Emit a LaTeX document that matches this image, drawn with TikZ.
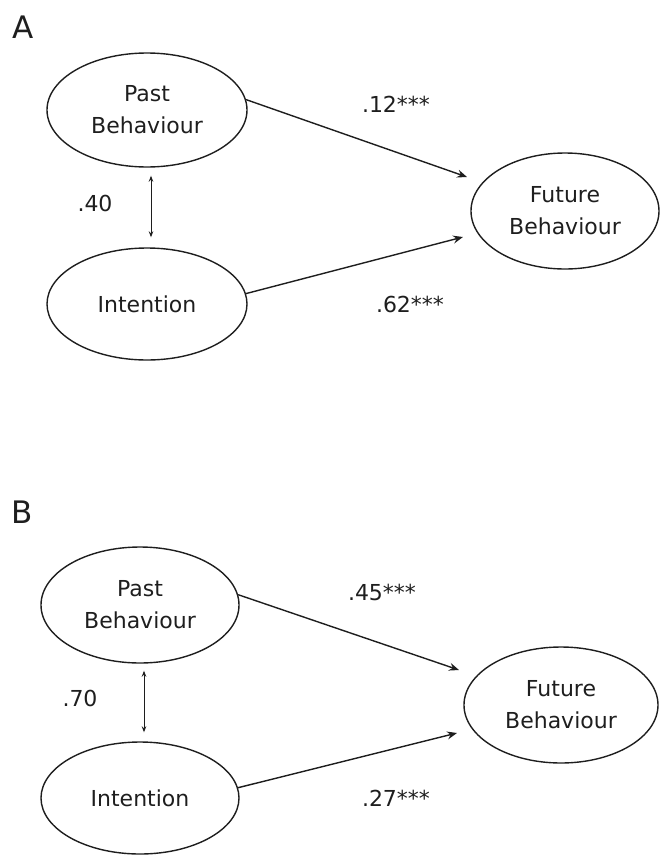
\documentclass[tikz,border=0pt]{standalone}
\usepackage{fontspec}
\setmainfont{DejaVu Sans}
\usetikzlibrary{shapes.geometric,arrows.meta}
\definecolor{ink}{HTML}{1E1E1E}
\begin{document}
\begin{tikzpicture}[x=1pt,y=-1pt,
  var/.style={ellipse,draw=ink,line width=1.4pt,inner sep=0pt,
    minimum width=200pt,minimum height=114pt,align=center,text=ink,
    font=\fontsize{22}{32}\selectfont},
  path/.style={draw=ink,line width=1.4pt,-{Stealth[length=10pt,width=8pt,inset=3.5pt]}},
  cov/.style={draw=ink,line width=1pt,{Stealth[length=6pt,width=4.5pt]}-{Stealth[length=6pt,width=4.5pt]}},
  coef/.style={text=ink,font=\fontsize{22}{26}\selectfont,inner sep=0pt},
  panel/.style={text=ink,font=\fontsize{31}{36}\selectfont,inner sep=0pt}]
\useasboundingbox (0,0) rectangle (661,857);

% ---- Model A ----
\node[panel] (labA) at (23,27) {A};
\node[var] (pastA) at (147,110) {Past\\Behaviour};
\node[var,minimum height=112pt] (intA) at (147,304) {Intention};
\node[var,minimum width=188pt,minimum height=116pt] (futA) at (565,211) {Future\\Behaviour};
\coordinate (tipA1) at (467,177);
\coordinate (tipA2) at (463,237);
\draw[path] (pastA.6) -- (tipA1);
\draw[path] (intA.6) -- (tipA2);
\draw[cov] ([yshift=-8pt]pastA.south -| 151,0) -- ([yshift=10pt]intA.north -| 151,0);
\node[coef] (cA) at (95,203) {.40};
\node[coef] (bA1) at (396,104) {.12***};
\node[coef] (bA2) at (410,304) {.62***};

% ---- Model B ----
\node[panel] (labB) at (22,512) {B};
\node[var,minimum width=198pt,minimum height=116pt] (pastB) at (140,605) {Past\\Behaviour};
\node[var,minimum width=198pt,minimum height=112pt] (intB) at (140,798) {Intention};
\node[var,minimum width=194pt,minimum height=116pt] (futB) at (561,705) {Future\\Behaviour};
\coordinate (tipB1) at (459,670);
\coordinate (tipB2) at (457,733);
\draw[path] (pastB.6) -- (tipB1);
\draw[path] (intB.6) -- (tipB2);
\draw[cov] ([yshift=-7pt]pastB.south -| 144,0) -- ([yshift=9pt]intB.north -| 144,0);
\node[coef] (cB) at (80,698) {.70};
\node[coef] (bB1) at (382,592) {.45***};
\node[coef] (bB2) at (396,798) {.27***};
\end{tikzpicture}
\end{document}
